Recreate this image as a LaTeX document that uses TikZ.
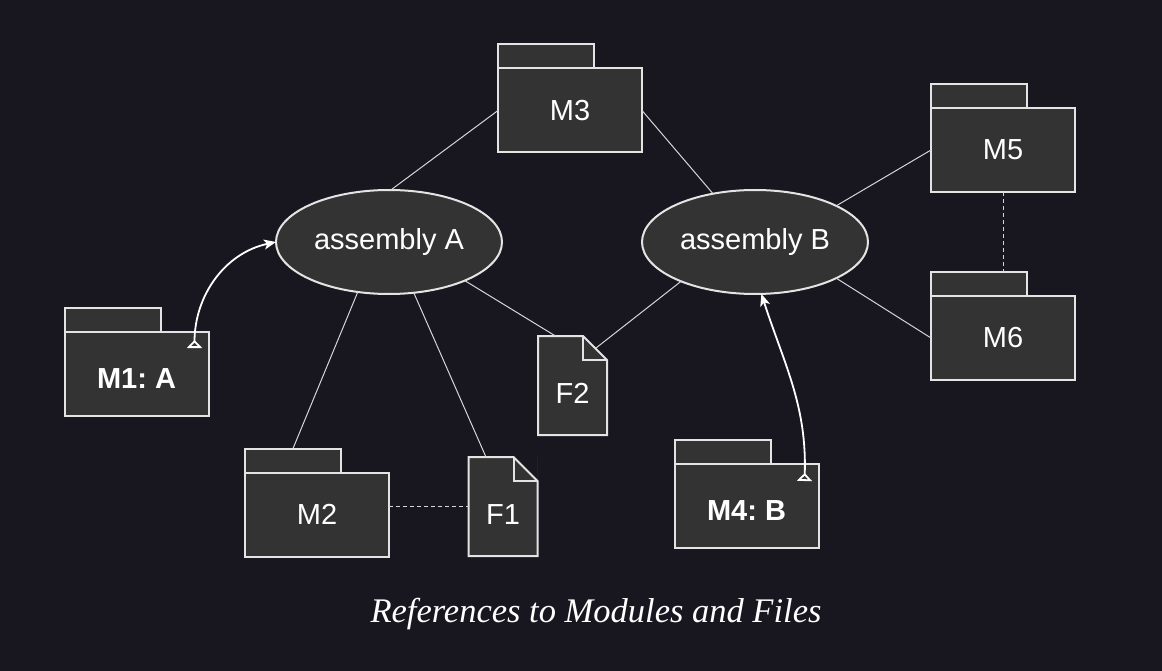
\documentclass[tikz,border=0pt]{standalone}
\usepackage{fontspec}
\setmainfont{Liberation Serif}
\newfontfamily\lsans{Liberation Sans}
\usetikzlibrary{shapes.geometric,arrows.meta,calc}

\definecolor{bgdark}{HTML}{18161F}
\definecolor{boxfill}{HTML}{333333}
\definecolor{boxline}{HTML}{E4E4E4}
\definecolor{linec}{HTML}{D6D6D6}

\tikzset{
  pkg/.style={rectangle, draw=boxline, line width=2pt, fill=boxfill, text=white,
    minimum width=144pt, minimum height=84pt, inner sep=0pt, outer sep=0pt,
    font=\lsans\fontsize{29}{34}\selectfont},
  pkgbold/.style={pkg, font=\lsans\bfseries\fontsize{29}{34}\selectfont,
    text height=29pt, text depth=0pt},
  pkgtab/.style={rectangle, draw=boxline, line width=2pt, fill=boxfill,
    minimum width=96pt, minimum height=24pt, inner sep=0pt, outer sep=0pt,
    anchor=south west},
  filebox/.style={rectangle, fill=boxfill, text=white, minimum width=69pt,
    minimum height=99pt, inner sep=0pt, outer sep=0pt, text height=35pt, text depth=0pt,
    font=\lsans\fontsize{29}{34}\selectfont},
  asm/.style={ellipse, draw=boxline, line width=2pt, fill=boxfill, text=white,
    minimum width=226pt, minimum height=104pt, inner sep=0pt, outer sep=0pt,
    font=\lsans\fontsize{29}{34}\selectfont},
  conn/.style={draw=linec, line width=1pt},
  assoc/.style={draw=white, line width=1.8pt,
    {Triangle[open,reversed,length=8pt,width=15pt,line width=1.8pt]}-{Stealth[length=12pt,width=10pt,inset=3pt]}}
}

\begin{document}
\begin{tikzpicture}[x=1pt,y=1pt]
\useasboundingbox (0,0) rectangle (1162,-671);
\fill[bgdark] (0,0) rectangle (1162,-671);

% assemblies
\node[asm] (A) at (389,-242) {assembly A};
\node[asm] (B) at (755,-242) {assembly B};

% modules
\node[pkg] (M3) at (570,-110.5) {M3};
\node[pkgtab] (M3t) at (M3.north west) {};
\node[pkg] (M5) at (1003,-150) {M5};
\node[pkgtab] (M5t) at (M5.north west) {};
\node[pkg] (M6) at (1003,-338) {M6};
\node[pkgtab] (M6t) at (M6.north west) {};
\node[pkgbold] (M1) at (136.5,-374) {M1:\ A};
\node[pkgtab] (M1t) at (M1.north west) {};
\node[pkg] (M2) at (317,-514.5) {M2};
\node[pkgtab] (M2t) at (M2.north west) {};
\node[pkgbold] (M4) at (746.5,-506) {M4:\ B};
\node[pkgtab] (M4t) at (M4.north west) {};

% files
\node[filebox] (F2) at (572.5,-385.5) {F2};
\node[filebox] (F1) at (503,-506.5) {F1};
\foreach \f in {F1,F2} {
  \fill[bgdark] (\f.north east) -- ([xshift=-24pt]\f.north east) -- ([yshift=-24pt]\f.north east) -- cycle;
  \draw[draw=boxline, line width=2pt, line join=miter] (\f.north west) -- ([xshift=-24pt]\f.north east)
    -- ([yshift=-24pt]\f.north east) -- (\f.south east) -- (\f.south west) -- cycle;
  \draw[draw=boxline, line width=2pt] ([xshift=-24pt]\f.north east) |- ([yshift=-24pt]\f.north east);
}
\coordinate (F2c) at ($(F2.north east)+(-11,-12)$);

% references
\draw[conn] (M3.west) -- (A.88);
\draw[conn] (M3.east) -- (B.131);
\draw[conn] (A.238) -- (M2t.north);
\draw[conn] (A.296) -- (F1.109);
\draw[conn] (A.333) -- (F2.109);
\draw[conn] (B.208) -- (F2c);
\draw[conn] (M5.west) -- (B.24);
\draw[conn] (M6.west) -- (B.336);
\draw[conn, dash pattern=on 4pt off 3pt] (M5.south) -- (M5.south |- M6t.north);
\draw[conn, dash pattern=on 4pt off 3pt] (M2.east |- F1.west) -- (F1.west);

% instances
\coordinate (M1r) at ($(M1.north east)+(-14,-16)$);
\coordinate (M4r) at ($(M4.north east)+(-14,-17)$);
\draw[assoc] (M1r) to[out=90,in=192] (A.west);
\draw[assoc] (M4r) to[out=88,in=-72] (B.277);

\node[anchor=base, text=white, font=\itshape\fontsize{34.5}{40}\selectfont] (cap) at (596,-622)
  {References to Modules and Files};
\end{tikzpicture}
\end{document}
